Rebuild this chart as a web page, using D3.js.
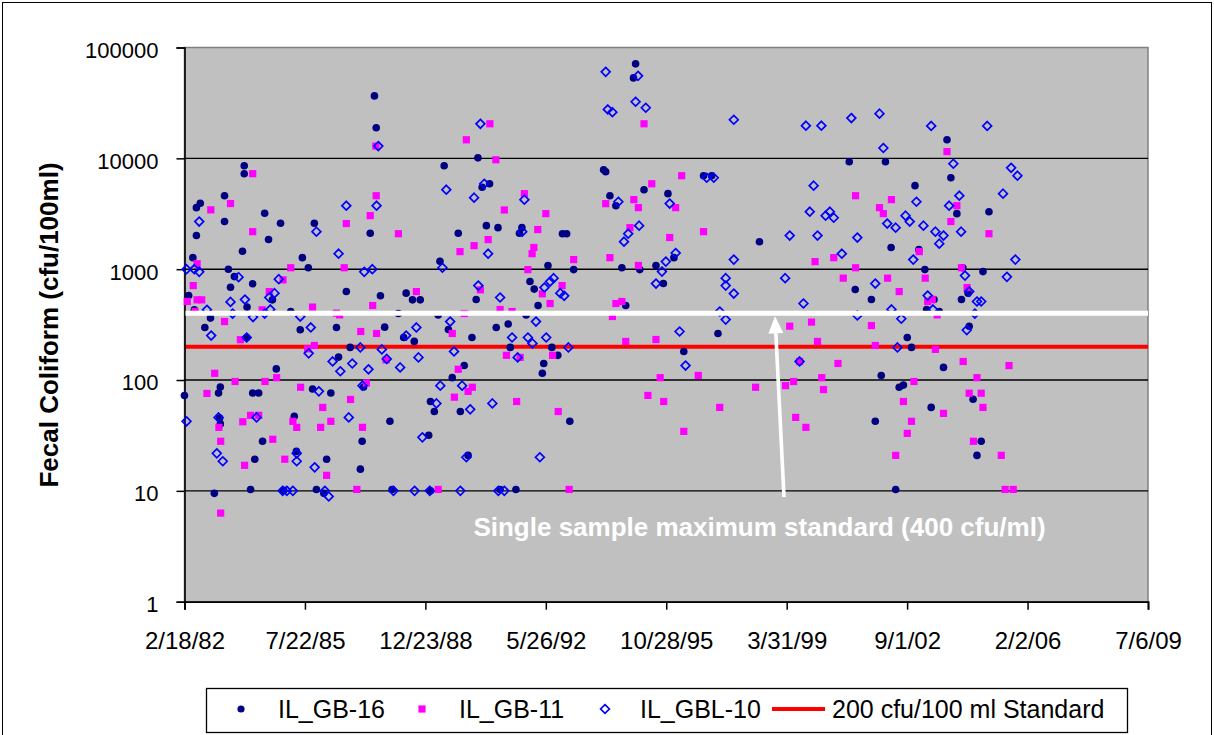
<!DOCTYPE html>
<html>
<head>
<meta charset="utf-8">
<script src="https://cdn.jsdelivr.net/npm/d3@7"></script>
<style>
  html, body { margin: 0; padding: 0; background: #ffffff; }
  svg { display: block; font-family: "Liberation Sans", Arial, sans-serif; }
</style>
</head>
<body>
<script>
// Sampling date (decimal year) and fecal coliform count (cfu/100ml), one array per station.
const gb16 = [
  [1987.53, 36600], [1987.58, 18900], [1983.83, 8580], [1983.83, 7270], [1983.27, 4600], [1982.58, 3930],
  [1982.47, 3590], [1983.27, 2690], [1984.41, 3200], [1984.86, 2600], [1982.47, 2010], [1984.52, 1850],
  [1985.82, 2600], [1983.78, 1450], [1987.41, 2110], [1982.37, 1270], [1985.48, 1270], [1983.38, 1000],
  [1985.65, 1030], [1983.55, 857], [1983.44, 688], [1984.07, 738], [1982.25, 578], [1983.91, 455],
  [1984.63, 529], [1986.73, 628], [1987.70, 575], [1988.43, 608], [1988.61, 529], [1988.83, 529],
  [1988.21, 398], [1982.87, 362], [1982.41, 430], [1985.15, 415], [1982.71, 298], [1985.42, 284],
  [1986.45, 298], [1987.82, 300], [1988.36, 242], [1988.66, 223], [1983.90, 242], [1986.84, 197],
  [1986.51, 161], [1984.74, 126], [1982.13, 72.6], [1983.15, 86.5], [1983.10, 76.4], [1984.07, 76.4],
  [1984.24, 76.4], [1985.77, 83], [1986.29, 76.4], [1987.22, 86.5], [1989.12, 64.1], [1983.13, 45.5],
  [1983.15, 40.2], [1985.25, 47], [1987.97, 42.4], [1989.07, 31.7], [1984.35, 28], [1987.18, 28],
  [1985.31, 22.7], [1984.13, 19.3], [1986.17, 19.3], [1987.13, 15.7], [1982.98, 9.5], [1984.01, 10.3],
  [1984.95, 10.1], [1985.88, 10.3], [1986.09, 9.5], [1988.03, 10.3], [1989.12, 10],
  [1994.95, 71200], [1994.89, 53200], [1990.47, 10100], [1989.51, 8580], [1990.80, 5900], [1990.59, 5480],
  [1994.04, 7890], [1994.10, 7560], [1994.22, 4600], [1994.39, 3740], [1989.91, 2110], [1990.71, 2470],
  [1991.04, 2370], [1991.72, 2370], [1991.65, 2110], [1992.87, 2090], [1992.99, 2090], [1989.39, 1180],
  [1992.46, 1080], [1993.19, 991], [1994.56, 1030], [1991.95, 773], [1992.07, 661], [1990.42, 532],
  [1992.18, 470], [1994.67, 470], [1989.34, 387], [1991.84, 387], [1990.99, 298], [1991.33, 320],
  [1989.63, 286], [1990.30, 242], [1991.39, 197], [1992.57, 197], [1992.74, 167], [1990.08, 135],
  [1992.34, 141], [1992.30, 115], [1989.74, 105], [1989.23, 52], [1989.97, 52], [1993.08, 42.4],
  [1990.19, 20.9], [1991.55, 10.3], [1991.10, 10.3],
  [1996.88, 6970], [1997.11, 6970], [1995.19, 5210], [1995.87, 4800], [1998.47, 1770], [1996.04, 1270],
  [1995.53, 1080], [1995.07, 991], [1995.74, 742], [1997.29, 263], [1996.32, 181],
  [2003.80, 14700], [2001.02, 9310], [2002.05, 9310], [2003.91, 6680], [2002.89, 5670], [2004.08, 3170],
  [2004.99, 3300], [2002.21, 1570], [2003.00, 1500], [2003.17, 991], [2004.25, 1030], [2004.82, 951],
  [2001.19, 655], [2001.65, 532], [2003.43, 532], [2004.21, 532], [2003.22, 433], [2003.58, 415],
  [2004.40, 608], [2004.43, 306], [2002.67, 242], [2002.79, 197], [2003.70, 130], [2001.93, 110],
  [2002.44, 86], [2002.56, 90], [2004.54, 67], [2003.35, 56.6], [2001.76, 42.4], [2004.77, 28],
  [2004.65, 20.9], [2002.34, 10.3]
];

const gb11 = [
  [1984.07, 7270], [1983.44, 3910], [1982.88, 3430], [1987.57, 12900], [1987.58, 4600], [1987.41, 3040],
  [1986.73, 2580], [1984.07, 2180], [1988.21, 2090], [1982.49, 1120], [1985.15, 1030], [1986.67, 1030],
  [1982.38, 711], [1982.21, 511], [1982.49, 529], [1982.62, 529], [1982.43, 415], [1984.54, 628],
  [1984.93, 801], [1984.34, 430], [1985.77, 455], [1986.45, 401], [1986.54, 387], [1987.48, 470],
  [1988.72, 628], [1983.27, 337], [1983.72, 231], [1987.14, 274], [1987.59, 263], [1985.82, 205],
  [1985.63, 191], [1987.86, 152], [1982.99, 115], [1983.57, 97], [1984.42, 97], [1984.75, 105],
  [1985.43, 86], [1987.30, 94], [1982.77, 75.7], [1986.06, 56.6], [1986.85, 66.8], [1984.01, 48],
  [1984.24, 48], [1983.79, 42], [1985.21, 42.4], [1985.32, 37.4], [1986.00, 37.4], [1986.29, 42.4],
  [1987.19, 37.4], [1983.11, 37.4], [1983.16, 28], [1984.64, 29.2], [1984.98, 19.3], [1983.84, 17],
  [1986.17, 13.8], [1987.03, 10.3], [1983.16, 6.3],
  [1990.81, 20500], [1990.14, 14700], [1990.98, 9710], [1991.79, 4800], [1991.22, 3420], [1992.40, 3170],
  [1992.17, 2280], [1994.10, 3900], [1994.90, 4240], [1995.03, 3590], [1994.79, 2370], [1990.76, 1850],
  [1990.36, 1630], [1989.96, 1440], [1992.06, 1570], [1992.01, 1380], [1993.19, 1220], [1994.22, 1270],
  [1991.89, 991], [1995.03, 1080], [1990.54, 651], [1992.30, 599], [1992.86, 711], [1992.52, 490],
  [1994.39, 490], [1994.56, 511], [1990.08, 398], [1991.10, 433], [1991.44, 415], [1994.29, 374],
  [1989.74, 263], [1994.67, 223], [1991.28, 167], [1991.67, 160], [1992.59, 167], [1989.91, 125],
  [1990.31, 86], [1990.19, 79], [1989.80, 70], [1991.57, 64], [1992.75, 52], [1989.34, 10.3], [1993.06, 10.3],
  [1995.19, 20500], [1996.26, 6970], [1995.41, 5900], [1996.09, 3590], [1996.88, 2180], [1995.92, 1930],
  [2000.05, 1170], [1995.53, 232], [1995.65, 105], [1996.73, 110], [1995.30, 72.6], [1995.75, 64],
  [1997.34, 56.6], [1996.32, 34.4], [1998.36, 86], [1999.33, 306], [1999.95, 333], [2000.12, 223],
  [1999.61, 147], [1999.21, 89], [1999.44, 97], [2000.24, 105], [2000.29, 82], [1999.50, 46], [1999.79, 37.4],
  [2003.80, 11500], [2001.20, 4600], [2002.22, 4240], [2001.88, 3590], [2001.99, 3170], [2004.08, 3740],
  [2003.91, 2690], [2004.99, 2090], [2003.01, 1440], [2000.58, 1270], [2001.20, 1030], [2004.21, 1030],
  [2000.85, 830], [2002.11, 830], [2003.18, 830], [2002.44, 628], [2003.25, 511], [2003.38, 532],
  [2004.37, 683], [2003.52, 387], [2001.65, 310], [2001.76, 205], [2003.47, 189], [2004.26, 147],
  [2005.56, 135], [2000.70, 141], [2002.86, 97], [2004.65, 105], [2004.43, 76], [2004.77, 76],
  [2004.82, 56.6], [2002.56, 64], [2003.70, 50], [2002.79, 42.4], [2002.67, 33], [2004.55, 28],
  [2002.34, 20.9], [2005.34, 20.9], [2005.45, 10.3], [2005.68, 10.3]
];

const gbl10 = [
  [1987.64, 12900], [1982.55, 2690], [1986.73, 3740], [1987.59, 3740], [1985.88, 2180], [1986.51, 1380],
  [1982.19, 1000], [1982.41, 1000], [1982.55, 946], [1987.24, 946], [1987.47, 1000],
  [1983.67, 847], [1984.81, 813], [1984.69, 608], [1984.54, 555], [1983.44, 507], [1983.85, 532],
  [1982.77, 430], [1983.50, 398], [1984.57, 433], [1984.41, 398], [1984.08, 370], [1985.42, 374],
  [1985.72, 298], [1982.89, 252], [1983.90, 242], [1985.66, 174], [1986.34, 147], [1986.56, 120],
  [1986.90, 141], [1987.13, 197], [1987.36, 125], [1987.74, 189], [1987.88, 155], [1988.26, 130],
  [1988.43, 252], [1988.72, 298], [1988.78, 160], [1987.19, 89], [1985.95, 79], [1982.19, 42.4],
  [1983.10, 46], [1984.18, 46], [1986.80, 46], [1988.89, 30.4], [1983.05, 21.8], [1983.22, 18.5],
  [1985.32, 21.8], [1985.32, 18.5], [1985.83, 16.3], [1984.92, 10], [1985.04, 10], [1985.21, 10],
  [1986.12, 10], [1986.23, 8.9], [1988.07, 10], [1988.67, 10], [1989.10, 10],
  [1994.10, 60300], [1995.02, 55500], [1994.95, 32400], [1994.16, 27600], [1994.29, 26100], [1990.54, 20500],
  [1989.57, 5210], [1990.36, 4420], [1990.65, 5900], [1991.79, 4240], [1994.46, 4060], [1991.73, 2180],
  [1994.74, 2090], [1994.62, 1770], [1990.76, 1380], [1989.46, 1030], [1995.05, 2470], [1992.62, 830],
  [1990.48, 711], [1992.36, 683], [1992.52, 773], [1992.81, 608], [1992.92, 575], [1991.10, 555],
  [1989.68, 337], [1992.12, 337], [1991.44, 242], [1991.89, 242], [1992.02, 214], [1992.41, 242],
  [1993.04, 197], [1989.79, 181], [1991.60, 160], [1989.40, 89], [1990.02, 89], [1989.29, 61.5],
  [1990.25, 54.4], [1990.88, 61.5], [1990.14, 20.1], [1992.23, 20.1], [1989.97, 10], [1991.05, 10], [1991.22, 10],
  [1995.24, 28600], [1997.74, 22300], [1999.79, 19700], [2000.23, 19700], [1996.97, 6680], [1997.17, 6680],
  [2000.01, 5670], [1995.92, 3910], [1999.90, 3300], [2000.35, 3040], [1999.33, 2010], [2000.12, 2010],
  [1996.09, 1400], [1995.81, 1170], [1997.74, 1220], [1995.70, 951], [1997.51, 830], [1999.20, 830],
  [1995.53, 742], [1997.51, 711], [1997.74, 603], [1999.72, 490], [1997.34, 415], [1997.51, 351],
  [1996.20, 274], [1996.37, 135], [1999.61, 147],
  [2001.08, 23100], [2001.88, 25300], [2003.35, 19600], [2004.94, 19600], [2001.99, 12400], [2003.98, 8940],
  [2005.62, 8220], [2005.80, 6970], [2005.39, 4800], [2004.15, 4600], [2002.93, 4060], [2003.86, 3740],
  [2000.47, 3300], [2000.58, 2910], [2002.62, 3040], [2002.74, 2690], [2002.10, 2580], [2002.34, 2370],
  [2003.13, 2470], [2003.47, 2180], [2003.70, 2010], [2003.58, 1700], [2004.20, 2180], [2001.25, 1930],
  [2000.81, 1380], [2002.84, 1220], [2005.74, 1220], [2004.31, 875], [2005.50, 853],
  [2001.76, 742], [2003.25, 578], [2004.43, 628], [2004.65, 511], [2004.77, 511], [2002.22, 433],
  [2003.40, 433], [2004.59, 398], [2001.25, 382], [2002.50, 357], [2004.36, 282], [2002.39, 197]
];

// Axis ticks
const xTickLabels = ["2/18/82", "7/22/85", "12/23/88", "5/26/92", "10/28/95", "3/31/99", "9/1/02", "2/2/06", "7/6/09"];
const yTickValues = [1, 10, 100, 1000, 10000, 100000];

// Reference levels
const standardValue = 200;       // 200 cfu/100 ml standard
const singleSampleMax = 400;     // single sample maximum standard

const seriesNames = ["IL_GB-16", "IL_GB-11", "IL_GBL-10"];
const standardName = "200 cfu/100 ml Standard";

// ---------------------------------------------------------------------------
const W = 1214, H = 735;
const plot = { left: 184.5, right: 1148, top: 47.5, bottom: 601.7 };

const parseTick = d3.timeParse("%m/%d/%y");
const xTickDates = xTickLabels.map(parseTick);

function fromDecimalYear(v) {
  const yr = Math.floor(v);
  const start = new Date(yr, 0, 1), end = new Date(yr + 1, 0, 1);
  return new Date(+start + (v - yr) * (end - start));
}

const x = d3.scaleTime()
  .domain([xTickDates[0], xTickDates[xTickDates.length - 1]])
  .range([plot.left, plot.right]);
const y = d3.scaleLog()
  .domain([1, 100000])
  .range([plot.bottom, plot.top]);

const svg = d3.select("body").append("svg")
  .attr("width", W).attr("height", H);

// chart frame
svg.append("rect")
  .attr("x", 2.5).attr("y", 2.5).attr("width", W - 5).attr("height", H + 10)
  .attr("fill", "#ffffff").attr("stroke", "#000000").attr("stroke-width", 1);

// plot area
svg.append("rect")
  .attr("x", plot.left).attr("y", plot.top)
  .attr("width", plot.right - plot.left).attr("height", plot.bottom - plot.top)
  .attr("fill", "#c0c0c0").attr("stroke", "#808080").attr("stroke-width", 1.5);

// horizontal gridlines
svg.append("g").selectAll("line")
  .data(yTickValues.filter(v => v > 1 && v < 100000))
  .join("line")
  .attr("x1", plot.left).attr("x2", plot.right)
  .attr("y1", d => y(d)).attr("y2", d => y(d))
  .attr("stroke", "#000000").attr("stroke-width", 1.4);

// 200 cfu/100 ml standard line
svg.append("line")
  .attr("x1", plot.left).attr("x2", plot.right)
  .attr("y1", y(standardValue)).attr("y2", y(standardValue))
  .attr("stroke", "#ff0000").attr("stroke-width", 4);

// axes
const yAxis = svg.append("g")
  .attr("transform", `translate(${plot.left},0)`)
  .call(d3.axisLeft(y).tickValues(yTickValues).tickFormat(d3.format("d")).tickSize(8).tickPadding(18));
yAxis.select(".domain").attr("stroke", "#000000").attr("stroke-width", 1.6);
yAxis.selectAll(".tick line").attr("stroke", "#000000").attr("stroke-width", 1.5);
yAxis.selectAll(".tick text")
  .attr("font-family", "Liberation Sans, Arial, sans-serif")
  .attr("font-size", 22).attr("fill", "#000000").attr("dy", "0.45em");

const xAxis = svg.append("g")
  .attr("transform", `translate(0,${plot.bottom})`)
  .call(d3.axisBottom(x).tickValues(xTickDates).tickFormat((d, i) => xTickLabels[i]).tickSize(8).tickPadding(0));
xAxis.select(".domain").attr("stroke", "#000000").attr("stroke-width", 1.8);
xAxis.selectAll(".tick line").attr("stroke", "#000000").attr("stroke-width", 1.5);
xAxis.selectAll(".tick text")
  .attr("font-family", "Liberation Sans, Arial, sans-serif")
  .attr("font-size", 24).attr("fill", "#000000")
  .attr("y", 47.5).attr("dy", 0);

// markers
const markerDot = "#000080", markerSquare = "#ff00ff", markerDiamond = "#0000ff";
const diamondPath = "M0,-4.4L4.4,0L0,4.4L-4.4,0Z";

svg.append("g").selectAll("circle")
  .data(gb16).join("circle")
  .attr("cx", d => x(fromDecimalYear(d[0])))
  .attr("cy", d => y(d[1]))
  .attr("r", 3.8).attr("fill", markerDot);

svg.append("g").selectAll("rect")
  .data(gb11).join("rect")
  .attr("x", d => x(fromDecimalYear(d[0])) - 3.6)
  .attr("y", d => y(d[1]) - 3.6)
  .attr("width", 7.2).attr("height", 7.2).attr("fill", markerSquare);

svg.append("g").selectAll("path")
  .data(gbl10).join("path")
  .attr("transform", d => `translate(${x(fromDecimalYear(d[0]))},${y(d[1])})`)
  .attr("d", diamondPath)
  .attr("fill", "none").attr("stroke", markerDiamond).attr("stroke-width", 1.7);

// single sample maximum standard line and callout
const maxY = y(singleSampleMax);
svg.append("line")
  .attr("x1", plot.left + 1).attr("x2", plot.right)
  .attr("y1", maxY).attr("y2", maxY)
  .attr("stroke", "#ffffff").attr("stroke-width", 5);

const arrowBase = [784, 497];
const arrowTip = [775, maxY + 3];
const ang = Math.atan2(arrowTip[1] - arrowBase[1], arrowTip[0] - arrowBase[0]);
const headLen = 17, headHalf = 7.5;
const hb = [arrowTip[0] - headLen * Math.cos(ang), arrowTip[1] - headLen * Math.sin(ang)];
svg.append("line")
  .attr("x1", arrowBase[0]).attr("y1", arrowBase[1])
  .attr("x2", hb[0]).attr("y2", hb[1])
  .attr("stroke", "#ffffff").attr("stroke-width", 3.6);
svg.append("path")
  .attr("d", `M${arrowTip[0]},${arrowTip[1]}` +
    `L${hb[0] + headHalf * Math.sin(ang)},${hb[1] - headHalf * Math.cos(ang)}` +
    `L${hb[0] - headHalf * Math.sin(ang)},${hb[1] + headHalf * Math.cos(ang)}Z`)
  .attr("fill", "#ffffff");

svg.append("text")
  .attr("x", 759.5).attr("y", 536)
  .attr("text-anchor", "middle")
  .attr("font-size", 26).attr("font-weight", "bold").attr("fill", "#ffffff")
  .text("Single sample maximum standard (400 cfu/ml)");

// y axis title
svg.append("text")
  .attr("transform", "translate(58,325) rotate(-90)")
  .attr("text-anchor", "middle")
  .attr("font-size", 26).attr("font-weight", "bold").attr("fill", "#000000")
  .text("Fecal Coliform (cfu/100ml)");

// legend
const lg = svg.append("g");
lg.append("rect")
  .attr("x", 206.5).attr("y", 688.5).attr("width", 921).attr("height", 44)
  .attr("fill", "#ffffff").attr("stroke", "#000000").attr("stroke-width", 1.3);
const legendY = 709, legendBase = 718, legendFont = 25;
lg.append("circle").attr("cx", 241).attr("cy", legendY).attr("r", 3.6).attr("fill", markerDot);
lg.append("rect").attr("x", 422 - 3.6).attr("y", legendY - 3.6).attr("width", 7.2).attr("height", 7.2).attr("fill", markerSquare);
lg.append("path").attr("transform", `translate(605,${legendY})`).attr("d", diamondPath)
  .attr("fill", "none").attr("stroke", markerDiamond).attr("stroke-width", 1.7);
lg.append("line").attr("x1", 772).attr("x2", 825).attr("y1", legendY).attr("y2", legendY)
  .attr("stroke", "#ff0000").attr("stroke-width", 4);
const legendTextX = [278, 459, 640, 832];
[...seriesNames, standardName].forEach((t, i) => {
  lg.append("text")
    .attr("x", legendTextX[i]).attr("y", legendBase)
    .attr("font-size", legendFont).attr("fill", "#000000")
    .text(t);
});
</script>
</body>
</html>
